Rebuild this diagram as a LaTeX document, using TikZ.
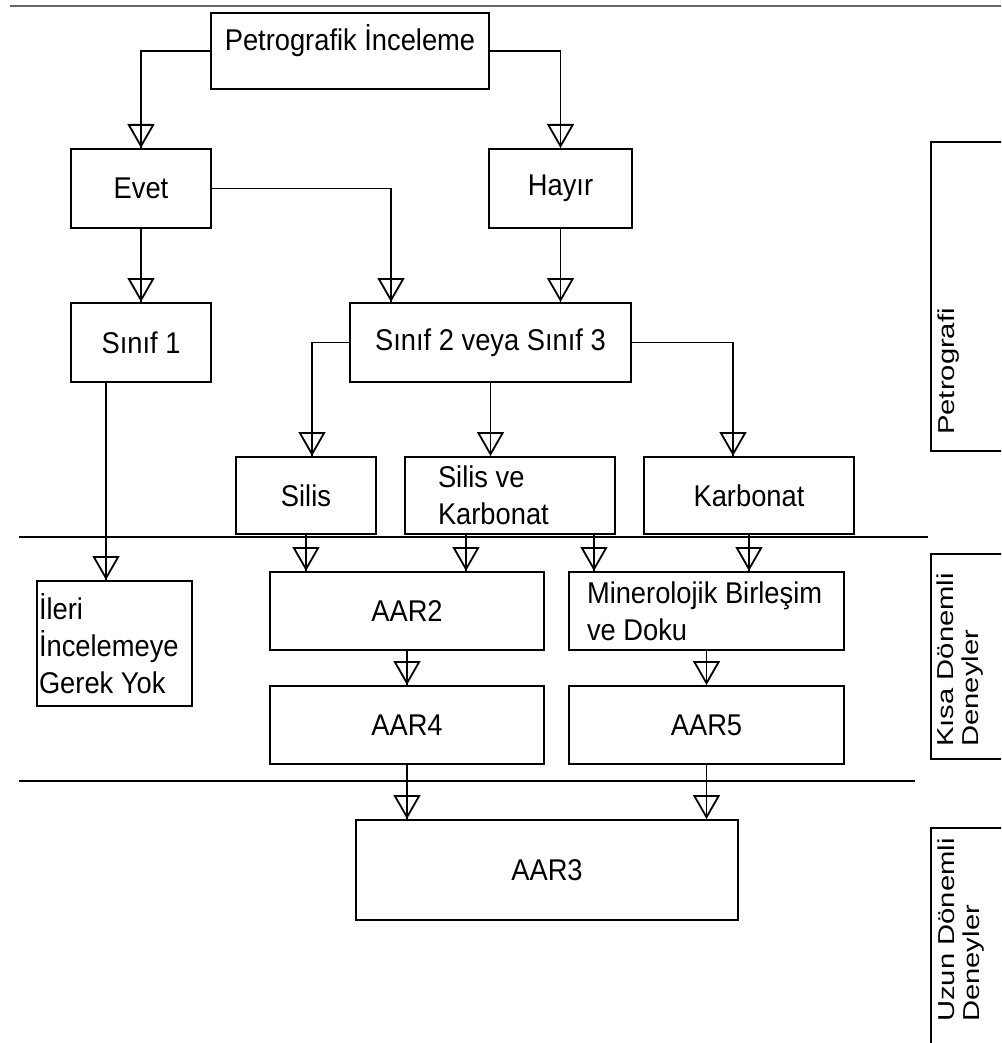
\documentclass[tikz,border=0pt]{standalone}
\usepackage{fontspec}
\setmainfont{Liberation Sans}[FakeStretch=0.91]
\newfontfamily\sidefont{Liberation Sans}[FakeStretch=1.27]
\usetikzlibrary{arrows.meta,positioning}

\begin{document}
\begin{tikzpicture} [
	x=1pt, y=-1pt,
	box/.style = {draw, line width=2pt, inner sep=0pt, anchor=north west, align=center, font=\fontsize{30}{37}\selectfont},
	flow/.style = {line width=1.8pt, -{Triangle[open, length=24pt, width=27pt]}, postaction={draw, line width=1.8pt, -}},
	frame/.style = {draw, line width=2pt},
	side/.style = {rotate=90, anchor=north west, align=flush left, inner sep=0pt, font=\sidefont\fontsize{23}{25}\selectfont},
	rule/.style = {line width=2pt},
]
\fill[white] (0,0) rectangle (1001,1043);
\useasboundingbox (0,0) rectangle (1001,1043);
\clip (0,0) rectangle (1001,1043);
\draw[line width=2.5pt, black!60] (10,6) -- (1001,6);

% petrografi
\node [box, minimum width=278pt, minimum height=76pt, text height=24pt, text depth=24pt] (pet) at (210,12) {Petrografik İnceleme};
\node [box, minimum width=140pt, minimum height=79pt] (evet) at (70,148) {Evet};
\node [box, minimum width=143pt, minimum height=79pt] (hayir) at (488,148) {Hayır};
\node [box, minimum width=140pt, minimum height=79pt] (sinif1) at (70,302) {Sınıf 1};
\node [box, minimum width=281pt, minimum height=79pt] (sinif23) at (349,302) {Sınıf 2 veya Sınıf 3};
\node [box, minimum width=140pt, minimum height=77pt] (silis) at (235,456) {Silis};
\node [box, minimum height=77pt, text width=144pt, inner xsep=33pt, align=flush left] (silkar) at (404,456) {Silis ve\\Karbonat};
\node [box, minimum width=210pt, minimum height=77pt] (karbonat) at (643,456) {Karbonat};

% kisa donemli deneyler
\node [box, minimum height=125pt, text width=151pt, inner xsep=2pt, align=flush left] (ileri) at (36,580) {İleri\\İncelemeye\\Gerek Yok};
\node [box, minimum width=274pt, minimum height=78pt] (aar2) at (269,571) {AAR2};
\node [box, minimum height=78pt, text width=239pt, inner xsep=18pt, align=flush left] (miner) at (568,571) {Minerolojik Birleşim\\ve Doku};
\node [box, minimum width=274pt, minimum height=78pt] (aar4) at (269,685) {AAR4};
\node [box, minimum width=275pt, minimum height=78pt] (aar5) at (568,685) {AAR5};

% uzun donemli deneyler
\node [box, minimum width=382pt, minimum height=100pt] (aar3) at (355,819) {AAR3};

\draw[rule] (19,537) -- (928,537);
\draw[rule] (19,781) -- (915,781);

\coordinate (evetin) at ([xshift=42pt]sinif23.north west);
\coordinate (silisin) at ([xshift=6pt]silis.north);
\coordinate (karbin) at ([xshift=-16pt]karbonat.north);
\coordinate (sinif1out) at ([xshift=-35pt]sinif1.south);
\coordinate (silkarout1) at ([xshift=62pt]silkar.south west);
\coordinate (silkarout2) at ([xshift=-22pt]silkar.south east);

\draw[flow] (pet.west) -| (evet.north);
\draw[flow] (pet.east) -| (hayir.north);
\draw[flow] (evet.east) -| (evetin);
\draw[flow] (evet.south) -- (sinif1.north);
\draw[flow] (hayir.south) -- (hayir.south |- sinif23.north);
\draw[flow] (sinif23.west) -| (silisin);
\draw[flow] (sinif23.south) -- (sinif23.south |- silkar.north);
\draw[flow] (sinif23.east) -| (karbin);
\draw[flow] (sinif1out) -- (sinif1out |- ileri.north);
\draw[flow] (silis.south) -- (silis.south |- aar2.north);
\draw[flow] (silkarout1) -- (silkarout1 |- aar2.north);
\draw[flow] (silkarout2) -- (silkarout2 |- miner.north);
\draw[flow] (karbonat.south) -- (karbonat.south |- miner.north);
\draw[flow] (aar2.south) -- (aar4.north);
\draw[flow] (miner.south) -- (aar5.north);
\draw[flow] (aar4.south) -- (aar4.south |- aar3.north);
\draw[flow] (aar5.south) -- (aar5.south |- aar3.north);

% side labels
\draw[frame] (931,142) rectangle (1012,451);
\node [side] (petrografi) at (938,435) {Petrografi};
\draw[frame] (931,554) rectangle (1012,759);
\node [side] (kisa) at (937,747) {Kısa Dönemli\\Deneyler};
\draw[frame] (931,828) rectangle (1012,1060);
\node [side] (uzun) at (938,1022) {Uzun Dönemli\\Deneyler};
\end{tikzpicture}
\end{document}
